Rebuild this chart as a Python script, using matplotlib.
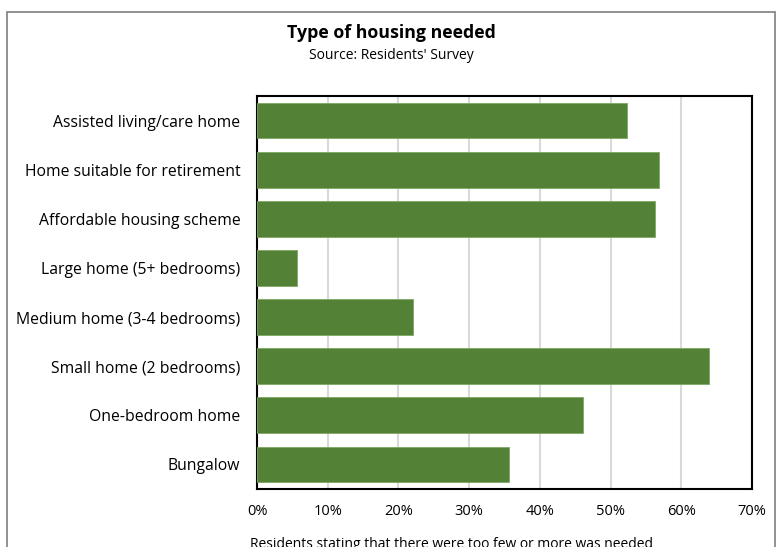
import matplotlib
matplotlib.use("Agg")
from matplotlib import pyplot as plt
from matplotlib.patches import Rectangle
from matplotlib.ticker import PercentFormatter

categories = [
	"Assisted living/care home",
	"Home suitable for retirement",
	"Affordable housing scheme",
	"Large home (5+ bedrooms)",
	"Medium home (3-4 bedrooms)",
	"Small home (2 bedrooms)",
	"One-bedroom home",
	"Bungalow",
]
values = [52.3, 56.9, 56.3, 5.7, 22.0, 63.9, 46.1, 35.7]
xticks = [0, 10, 20, 30, 40, 50, 60, 70]

plt.rcParams["font.family"] = ["Open Sans", "DejaVu Sans"]

fig = plt.figure(figsize=(7.82, 5.47), dpi=100)
ax = fig.add_axes([257/782, 1-489/547, (752-257)/782, (489-96)/547])

pos = list(range(len(categories)))
ax.barh(pos, values, height=0.73, color="#538135", edgecolor="#7fa862", linewidth=0.6, zorder=3)
ax.set_yticks(pos)
ax.set_yticklabels(categories, fontsize=11.3)
ax.set_ylim(len(categories)-0.5, -0.5)

ax.set_xlim(0, 70)
ax.set_xticks(xticks)
ax.xaxis.set_major_formatter(PercentFormatter(decimals=0))
ax.tick_params(axis="x", labelsize=10.5, length=0, pad=11)
ax.tick_params(axis="y", length=0, pad=12)
ax.grid(axis="x", color="#d9d9d9", linewidth=1.5, zorder=0)
for s in ax.spines.values():
	s.set_color("black")
	s.set_linewidth(1.5)

# axis title, partly cut off by the bottom edge like the reference
fig.text(451/782, 1-545/547, "Residents stating that there were too few or more was needed",
	ha="center", va="center", fontsize=10)

fig.text(391/782, 1-33/547, "Type of housing needed", ha="center", va="center", fontsize=12.8, fontweight="bold")
fig.text(391/782, 1-55/547, "Source: Residents' Survey", ha="center", va="center", fontsize=10)

# outer chart border, runs off the bottom of the image
border = Rectangle((7/782, -0.2), (775-7)/782, 1-12/547+0.2, transform=fig.transFigure,
	fill=False, edgecolor="#7f7f7f", linewidth=1.2, clip_on=False)
fig.patches.append(border)

fig.savefig("out.png", dpi=100)
